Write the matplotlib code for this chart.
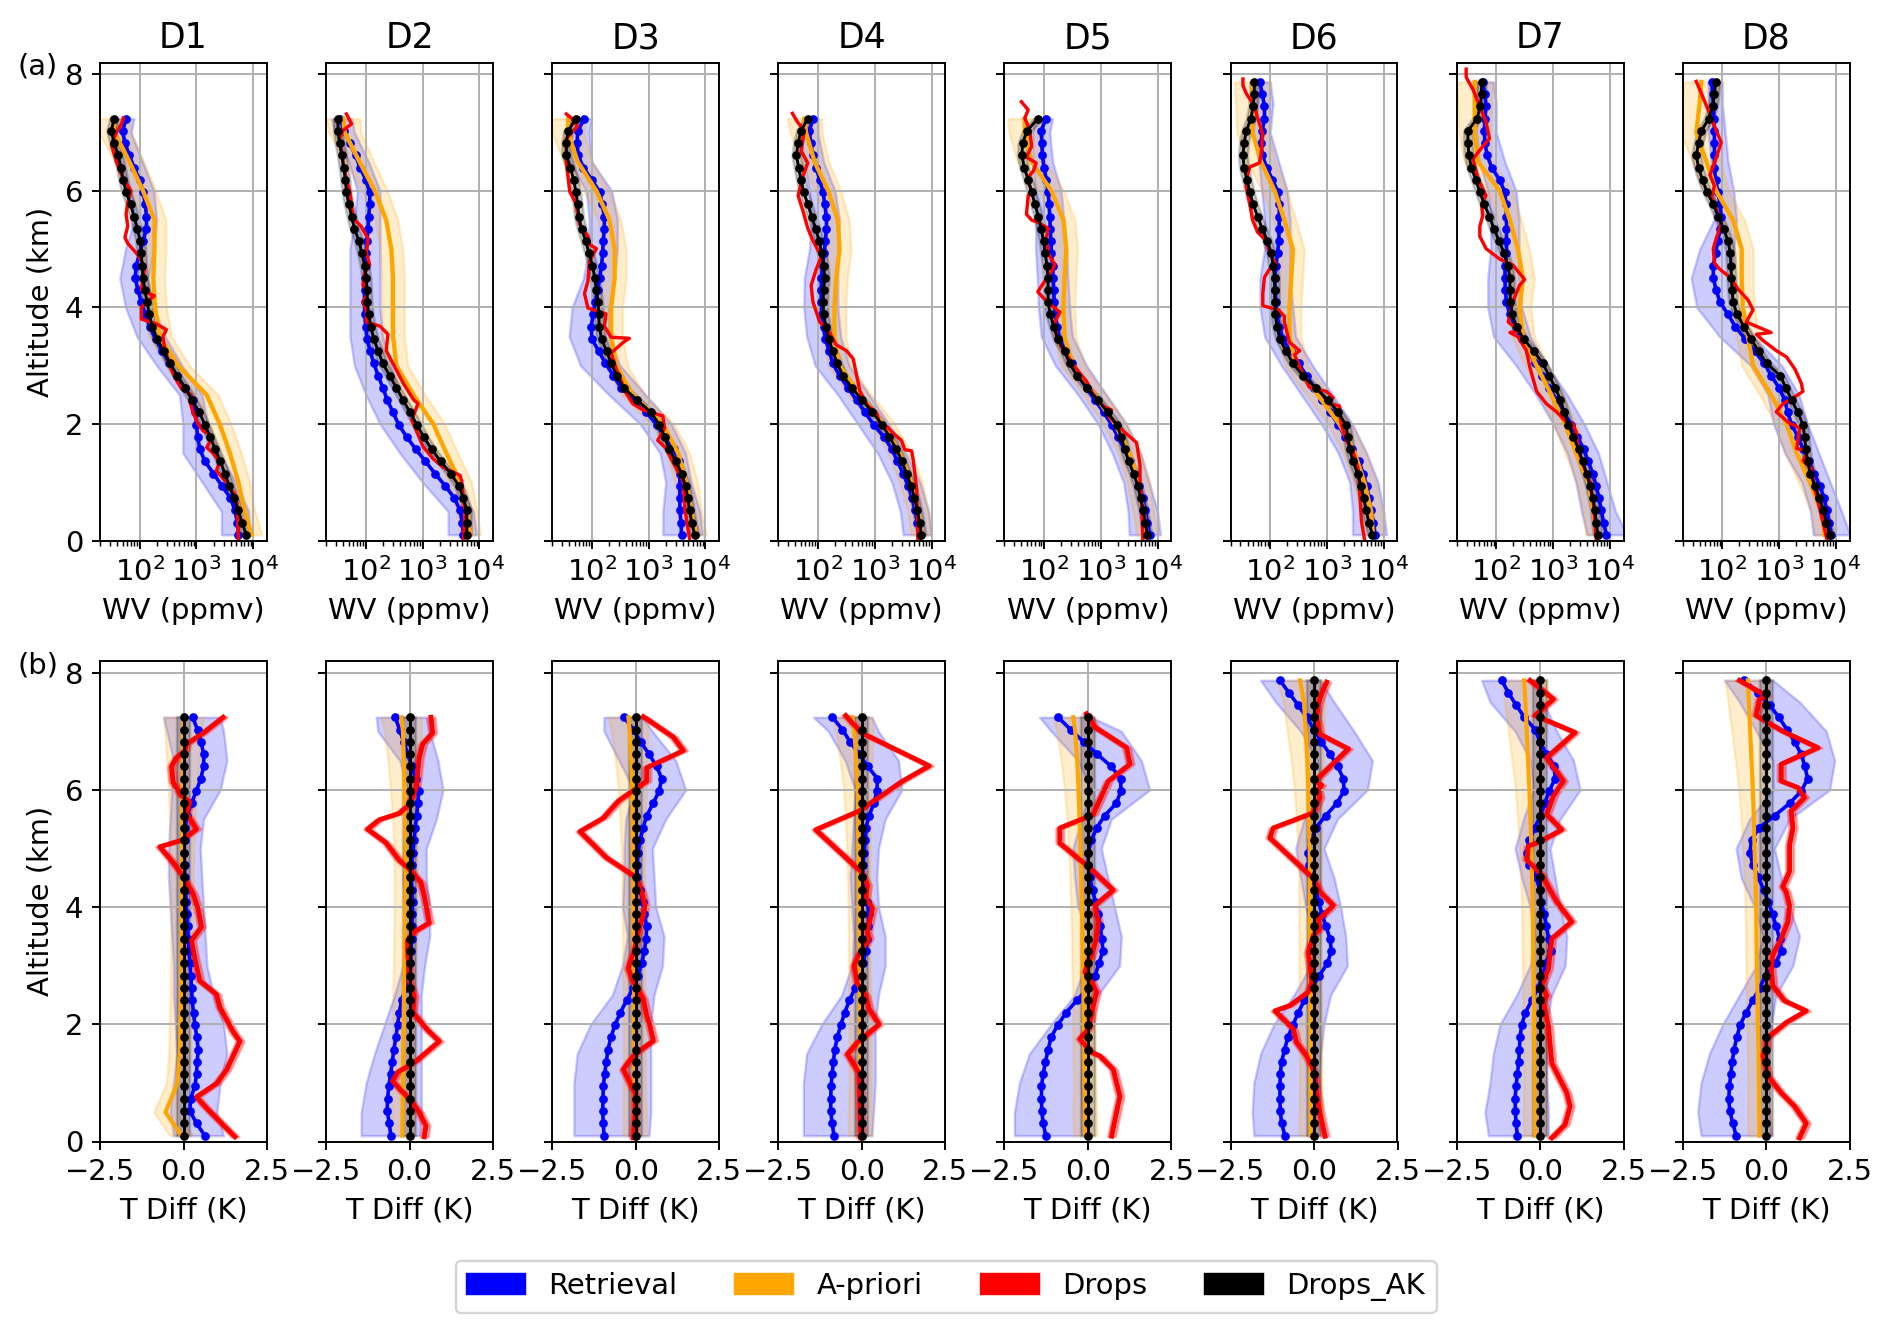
import numpy as np
import matplotlib
matplotlib.use("Agg")
import matplotlib.pyplot as plt
from matplotlib.patches import Patch

plt.rcParams['font.family'] = ['DejaVu Sans']
plt.rcParams['font.size'] = 12

PANELS = ['D1', 'D2', 'D3', 'D4', 'D5', 'D6', 'D7', 'D8']
LEGEND_LABELS = ['Retrieval', 'A-priori', 'Drops', 'Drops_AK']
Y_TICKS = [0, 2, 4, 6, 8]
T_TICKS = [-2.5, 0.0, 2.5]

# retrieval altitude levels (km)
Z_LEV_A = [0.10, 0.31, 0.52, 0.73, 0.94, 1.15, 1.36, 1.57, 1.78, 1.99,
           2.20, 2.41, 2.62, 2.83, 3.04, 3.25, 3.46, 3.67, 3.88, 4.09,
           4.30, 4.51, 4.72, 4.93, 5.14, 5.35, 5.56, 5.77, 5.98, 6.19,
           6.40, 6.61, 6.82, 7.03, 7.24]
Z_LEV_B = Z_LEV_A + [7.45, 7.66, 7.87]
# coarse altitudes for a-priori and uncertainty bands (km)
Z_CRS_A = [0.1, 0.5, 1.0, 1.5, 2.0, 2.5, 3.0, 3.5, 4.0, 4.5, 5.0, 5.5, 6.0, 6.5, 7.0, 7.24]
Z_CRS_B = [0.1, 0.5, 1.0, 1.5, 2.0, 2.5, 3.0, 3.5, 4.0, 4.5, 5.0, 5.5, 6.0, 6.5, 7.0, 7.5, 7.87]

# ---------------- (a) water vapour, log10(ppmv) ----------------
WV_RET_D1 = [3.74, 3.72, 3.68, 3.60, 3.45, 3.30, 3.15, 3.06, 3.02, 3.00,
             2.98, 2.94, 2.80, 2.65, 2.52, 2.40, 2.28, 2.18, 2.10, 2.03,
             1.97, 1.92, 1.94, 2.00, 2.06, 2.12, 2.12, 2.10, 2.06, 2.00,
             1.90, 1.82, 1.74, 1.70, 1.76]
WV_RET_D2 = [3.72, 3.70, 3.66, 3.56, 3.40, 3.22, 3.05, 2.88, 2.72, 2.58,
             2.48, 2.38, 2.30, 2.22, 2.14, 2.08, 2.02, 2.00, 1.98, 1.98,
             1.98, 1.98, 2.00, 2.01, 2.02, 2.04, 2.05, 2.07, 2.07, 2.00,
             1.90, 1.82, 1.72, 1.62, 1.54]
WV_RET_D3 = [3.58, 3.57, 3.55, 3.55, 3.55, 3.55, 3.54, 3.44, 3.28, 3.14,
             2.96, 2.76, 2.52, 2.38, 2.24, 2.12, 2.00, 1.99, 2.02, 2.06,
             2.10, 2.14, 2.17, 2.19, 2.20, 2.22, 2.22, 2.18, 2.14, 2.00,
             1.85, 1.76, 1.74, 1.75, 1.87]
WV_RET_D4 = [3.79, 3.75, 3.71, 3.66, 3.59, 3.50, 3.40, 3.30, 3.16, 2.98,
             2.83, 2.68, 2.53, 2.38, 2.26, 2.20, 2.13, 2.10, 2.07, 2.06,
             2.06, 2.06, 2.08, 2.11, 2.13, 2.15, 2.15, 2.12, 2.09, 2.03,
             1.97, 1.91, 1.87, 1.85, 1.91]
WV_RET_D5 = [3.86, 3.82, 3.78, 3.74, 3.68, 3.60, 3.52, 3.42, 3.30, 3.19,
             3.05, 2.90, 2.75, 2.60, 2.49, 2.38, 2.27, 2.23, 2.20, 2.18,
             2.17, 2.16, 2.15, 2.13, 2.12, 2.11, 2.10, 2.09, 2.07, 2.04,
             2.00, 1.97, 1.96, 1.95, 2.03]
WV_RET_D6 = [3.84, 3.82, 3.78, 3.74, 3.70, 3.64, 3.56, 3.44, 3.32, 3.20,
             3.06, 2.92, 2.78, 2.64, 2.50, 2.36, 2.22, 2.16, 2.12, 2.10,
             2.09, 2.08, 2.10, 2.13, 2.15, 2.16, 2.16, 2.16, 2.14, 2.04,
             1.94, 1.86, 1.84, 1.86, 1.90, 1.90, 1.86, 1.82]
WV_RET_D7 = [3.94, 3.89, 3.85, 3.81, 3.76, 3.70, 3.62, 3.54, 3.43, 3.32,
             3.19, 3.06, 2.93, 2.80, 2.68, 2.57, 2.45, 2.34, 2.24, 2.18,
             2.16, 2.15, 2.16, 2.18, 2.18, 2.18, 2.18, 2.17, 2.15, 2.06,
             1.92, 1.84, 1.80, 1.79, 1.80, 1.82, 1.80, 1.76]
WV_RET_D8 = [3.92, 3.88, 3.84, 3.79, 3.72, 3.62, 3.52, 3.42, 3.33, 3.22,
             3.15, 3.10, 3.00, 2.86, 2.74, 2.57, 2.40, 2.23, 2.10, 1.96,
             1.89, 1.84, 1.84, 1.88, 1.92, 1.96, 1.98, 1.96, 1.92, 1.88,
             1.86, 1.86, 1.86, 1.86, 1.85, 1.84, 1.83, 1.81]

WV_AK_D1 = [3.88, 3.80, 3.74, 3.66, 3.58, 3.50, 3.42, 3.33, 3.24, 3.15,
            3.05, 2.93, 2.80, 2.66, 2.54, 2.42, 2.31, 2.22, 2.17, 2.13,
            2.09, 2.06, 2.04, 2.03, 2.01, 1.96, 1.90, 1.84, 1.76, 1.71,
            1.67, 1.62, 1.55, 1.50, 1.55]
WV_AK_D2 = [3.78, 3.78, 3.78, 3.72, 3.64, 3.50, 3.32, 3.16, 3.02, 2.90,
            2.78, 2.66, 2.54, 2.42, 2.30, 2.22, 2.14, 2.09, 2.05, 2.03,
            2.02, 2.01, 1.98, 1.93, 1.88, 1.80, 1.75, 1.70, 1.66, 1.64,
            1.61, 1.58, 1.54, 1.51, 1.51]
WV_AK_D3 = [3.81, 3.76, 3.72, 3.69, 3.65, 3.58, 3.48, 3.36, 3.28, 3.19,
            3.04, 2.80, 2.56, 2.44, 2.34, 2.26, 2.17, 2.13, 2.12, 2.11,
            2.08, 2.05, 2.01, 1.95, 1.89, 1.82, 1.77, 1.75, 1.72, 1.68,
            1.62, 1.55, 1.55, 1.58, 1.72]
WV_AK_D4 = [3.82, 3.79, 3.75, 3.70, 3.64, 3.56, 3.48, 3.38, 3.26, 3.13,
            2.96, 2.78, 2.60, 2.44, 2.34, 2.26, 2.19, 2.14, 2.10, 2.09,
            2.10, 2.12, 2.10, 2.07, 2.02, 1.96, 1.89, 1.82, 1.75, 1.70,
            1.66, 1.62, 1.65, 1.70, 1.82]
WV_AK_D5 = [3.82, 3.78, 3.75, 3.70, 3.65, 3.58, 3.49, 3.42, 3.36, 3.28,
            3.12, 2.95, 2.76, 2.58, 2.45, 2.36, 2.24, 2.17, 2.11, 2.07,
            2.07, 2.07, 2.05, 2.02, 1.99, 1.95, 1.90, 1.84, 1.78, 1.72,
            1.65, 1.61, 1.62, 1.70, 1.89]
WV_AK_D6 = [3.80, 3.74, 3.69, 3.65, 3.60, 3.54, 3.46, 3.40, 3.37, 3.33,
            3.20, 3.02, 2.80, 2.58, 2.40, 2.28, 2.17, 2.12, 2.09, 2.08,
            2.08, 2.08, 2.05, 2.02, 1.95, 1.86, 1.78, 1.70, 1.64, 1.59,
            1.54, 1.52, 1.54, 1.58, 1.66, 1.70, 1.72, 1.72]
WV_AK_D7 = [3.79, 3.76, 3.74, 3.70, 3.65, 3.59, 3.52, 3.45, 3.36, 3.27,
            3.20, 3.13, 3.04, 2.93, 2.82, 2.66, 2.48, 2.36, 2.28, 2.25,
            2.24, 2.24, 2.20, 2.14, 2.05, 1.96, 1.88, 1.79, 1.71, 1.64,
            1.56, 1.52, 1.50, 1.50, 1.66, 1.72, 1.74, 1.74]
WV_AK_D8 = [3.89, 3.83, 3.78, 3.71, 3.63, 3.55, 3.50, 3.47, 3.45, 3.42,
            3.33, 3.22, 3.12, 3.02, 2.78, 2.64, 2.50, 2.38, 2.26, 2.19,
            2.17, 2.16, 2.15, 2.14, 2.10, 2.02, 1.93, 1.84, 1.73, 1.65,
            1.58, 1.54, 1.58, 1.63, 1.76, 1.83, 1.86, 1.88]

WV_APR_D1 = [3.97, 3.85, 3.74, 3.59, 3.41, 3.18, 2.68, 2.36, 2.27, 2.24, 2.26, 2.26, 2.06, 1.82, 1.56, 1.52]
WV_APR_D2 = [3.84, 3.78, 3.66, 3.42, 3.19, 2.84, 2.54, 2.48, 2.48, 2.48, 2.45, 2.36, 2.16, 1.89, 1.63, 1.60]
WV_APR_D3 = [3.84, 3.75, 3.66, 3.52, 3.25, 2.72, 2.43, 2.34, 2.34, 2.40, 2.40, 2.31, 2.08, 1.75, 1.58, 1.58]
WV_APR_D4 = [3.82, 3.76, 3.64, 3.44, 3.15, 2.74, 2.38, 2.29, 2.29, 2.32, 2.38, 2.35, 2.18, 1.94, 1.79, 1.76]
WV_APR_D5 = [3.81, 3.75, 3.66, 3.51, 3.25, 2.89, 2.51, 2.36, 2.34, 2.36, 2.39, 2.34, 2.13, 1.78, 1.66, 1.66]
WV_APR_D6 = [3.81, 3.78, 3.66, 3.49, 3.22, 2.84, 2.46, 2.34, 2.34, 2.37, 2.40, 2.25, 2.08, 1.84, 1.69, 1.69, 1.69]
WV_APR_D7 = [3.76, 3.71, 3.62, 3.41, 3.21, 2.97, 2.71, 2.47, 2.41, 2.47, 2.38, 2.24, 2.06, 1.68, 1.62, 1.62, 1.62]
WV_APR_D8 = [3.80, 3.75, 3.54, 3.31, 3.13, 2.86, 2.54, 2.45, 2.36, 2.34, 2.34, 2.19, 1.89, 1.72, 1.54, 1.60, 1.63]
WV_APR_ERR_A = [0.18, 0.18, 0.20, 0.20, 0.20, 0.20, 0.20, 0.20, 0.20, 0.20, 0.20, 0.20, 0.22, 0.25, 0.28, 0.30]
WV_APR_ERR_B = [0.18, 0.18, 0.20, 0.20, 0.20, 0.20, 0.20, 0.20, 0.20, 0.20, 0.20, 0.20, 0.22, 0.25, 0.28, 0.30, 0.32]
WV_AK_ERR = 0.08

WV_RET_LO_D1 = [3.44, 3.44, 3.10, 2.76, 2.76, 2.70, 2.30, 1.95, 1.75, 1.65, 1.75, 1.90, 1.85, 1.65, 1.55, 1.60]
WV_RET_HI_D1 = [3.95, 3.92, 3.70, 3.40, 3.20, 3.10, 2.75, 2.45, 2.25, 2.15, 2.25, 2.30, 2.25, 2.05, 1.85, 1.90]
WV_RET_LO_D2 = [3.45, 3.45, 3.00, 2.60, 2.25, 2.00, 1.80, 1.72, 1.72, 1.72, 1.72, 1.80, 1.85, 1.70, 1.45, 1.40]
WV_RET_HI_D2 = [3.95, 3.90, 3.60, 3.20, 2.85, 2.60, 2.45, 2.30, 2.25, 2.25, 2.25, 2.25, 2.25, 2.05, 1.80, 1.75]
WV_RET_LO_D3 = [3.25, 3.25, 3.30, 3.20, 2.85, 2.30, 1.80, 1.60, 1.65, 1.85, 1.95, 1.95, 1.90, 1.60, 1.55, 1.65]
WV_RET_HI_D3 = [3.95, 3.90, 3.75, 3.65, 3.40, 2.95, 2.50, 2.30, 2.30, 2.40, 2.45, 2.45, 2.35, 2.00, 1.95, 2.00]
WV_RET_LO_D4 = [3.50, 3.45, 3.30, 3.05, 2.70, 2.35, 1.95, 1.80, 1.75, 1.76, 1.85, 1.88, 1.85, 1.75, 1.70, 1.75]
WV_RET_HI_D4 = [4.00, 3.95, 3.80, 3.55, 3.25, 2.90, 2.55, 2.40, 2.35, 2.35, 2.35, 2.38, 2.30, 2.10, 2.00, 2.00]
WV_RET_LO_D5 = [3.50, 3.48, 3.40, 3.20, 2.95, 2.60, 2.20, 1.95, 1.90, 1.88, 1.85, 1.85, 1.85, 1.80, 1.80, 1.85]
WV_RET_HI_D5 = [4.05, 4.00, 3.85, 3.70, 3.45, 3.10, 2.75, 2.50, 2.45, 2.42, 2.40, 2.35, 2.30, 2.15, 2.10, 2.15]
WV_RET_LO_D6 = [3.45, 3.45, 3.40, 3.20, 2.90, 2.55, 2.20, 1.90, 1.82, 1.82, 1.90, 1.90, 1.85, 1.80, 1.70, 1.75, 1.75]
WV_RET_HI_D6 = [4.05, 4.00, 3.90, 3.70, 3.45, 3.10, 2.75, 2.45, 2.40, 2.35, 2.35, 2.35, 2.30, 2.15, 2.00, 2.05, 2.00]
WV_RET_LO_D7 = [3.60, 3.50, 3.40, 3.25, 3.00, 2.70, 2.35, 1.95, 1.85, 1.85, 1.90, 1.90, 1.85, 1.70, 1.65, 1.65, 1.65]
WV_RET_HI_D7 = [4.30, 4.10, 3.95, 3.80, 3.55, 3.25, 2.90, 2.60, 2.45, 2.40, 2.40, 2.40, 2.35, 2.15, 2.00, 2.00, 1.95]
WV_RET_LO_D8 = [3.60, 3.55, 3.40, 3.10, 2.90, 2.80, 2.50, 1.95, 1.55, 1.45, 1.60, 1.85, 1.85, 1.80, 1.75, 1.75, 1.75]
WV_RET_HI_D8 = [4.25, 4.10, 3.90, 3.70, 3.50, 3.35, 3.05, 2.55, 2.20, 2.15, 2.20, 2.25, 2.20, 2.10, 2.05, 2.00, 2.00]

# dropsonde profiles: (altitude km, log10 ppmv)
WV_DROPS_D1 = [(0.03, 3.74), (0.67, 3.71), (0.80, 3.67), (1.00, 3.53), (1.20, 3.35), (1.35, 3.41),
               (1.50, 3.29), (1.60, 3.18), (1.70, 3.24), (1.80, 3.27), (1.88, 3.12), (2.00, 3.03),
               (2.20, 2.94), (2.40, 2.88), (2.50, 2.91), (2.60, 2.74), (2.80, 2.62), (3.00, 2.53),
               (3.30, 2.44), (3.50, 2.41), (3.62, 2.47), (3.72, 2.29), (3.80, 2.03), (4.00, 2.03),
               (4.10, 2.12), (4.20, 2.26), (4.30, 2.03), (4.50, 2.06), (4.70, 2.09), (4.90, 1.97),
               (5.10, 1.79), (5.20, 1.74), (5.40, 1.79), (5.60, 1.76), (5.80, 1.79), (6.00, 1.85),
               (6.20, 1.71), (6.50, 1.59), (6.80, 1.50), (7.00, 1.59), (7.15, 1.68), (7.25, 1.71)]
WV_DROPS_D2 = [(0.03, 3.72), (0.46, 3.75), (1.02, 3.69), (1.12, 3.66), (1.26, 3.36), (1.40, 3.19),
               (1.61, 3.01), (2.07, 2.81), (2.35, 2.92), (2.42, 2.84), (2.70, 2.66), (2.98, 2.51),
               (3.26, 2.36), (3.54, 2.39), (3.68, 2.25), (3.75, 2.01), (3.96, 2.01), (4.10, 1.95),
               (4.24, 2.04), (4.38, 1.95), (4.59, 1.98), (4.73, 2.07), (4.94, 2.01), (5.18, 2.04),
               (5.39, 1.92), (5.53, 1.78), (5.74, 1.75), (5.99, 1.72), (6.20, 1.66), (6.48, 1.60),
               (6.90, 1.54), (7.04, 1.60), (7.15, 1.75), (7.32, 1.66)]
WV_DROPS_D3 = [(0.03, 3.72), (0.53, 3.64), (1.02, 3.61), (1.40, 3.40), (1.58, 3.31), (1.72, 3.16),
               (1.93, 3.28), (2.14, 3.25), (2.24, 2.90), (2.35, 2.72), (2.52, 2.61), (2.94, 2.43),
               (3.22, 2.34), (3.40, 2.55), (3.47, 2.66), (3.49, 2.34), (3.68, 2.22), (3.89, 2.25),
               (3.99, 1.93), (4.24, 1.87), (4.45, 1.93), (4.80, 1.96), (5.01, 2.08), (5.08, 1.96),
               (5.22, 1.93), (5.43, 1.78), (5.78, 1.72), (5.99, 1.61), (6.48, 1.55), (6.90, 1.55),
               (7.11, 1.75), (7.25, 1.64), (7.32, 1.55)]
WV_DROPS_D4 = [(0.03, 3.76), (0.88, 3.74), (1.37, 3.68), (1.54, 3.65), (1.56, 3.53), (1.72, 3.47),
               (1.82, 3.35), (1.96, 3.21), (2.00, 3.09), (2.20, 3.03), (2.31, 2.88), (2.56, 2.74),
               (2.84, 2.68), (3.12, 2.62), (3.26, 2.50), (3.36, 2.32), (3.61, 2.18), (3.75, 2.03),
               (4.10, 1.91), (4.38, 1.88), (4.66, 1.97), (4.87, 2.06), (5.15, 1.91), (5.36, 1.82),
               (5.64, 1.74), (5.92, 1.65), (6.27, 1.74), (6.48, 1.82), (6.69, 1.70), (7.04, 1.76),
               (7.18, 1.64), (7.33, 1.55)]
WV_DROPS_D5 = [(0.03, 3.74), (0.60, 3.72), (1.02, 3.69), (1.30, 3.69), (1.68, 3.63), (1.86, 3.42),
               (2.00, 3.28), (2.14, 3.13), (2.24, 3.19), (2.31, 3.04), (2.52, 2.86), (2.73, 2.75),
               (2.98, 2.54), (3.12, 2.45), (3.26, 2.34), (3.50, 2.22), (3.75, 2.19), (3.92, 2.28),
               (4.06, 2.10), (4.17, 1.98), (4.27, 1.89), (4.45, 2.01), (4.62, 2.13), (4.73, 2.19),
               (4.94, 2.07), (5.18, 2.04), (5.36, 2.07), (5.46, 1.89), (5.50, 1.78), (5.60, 1.69),
               (5.92, 1.72), (6.02, 1.78), (6.20, 1.69), (6.34, 1.81), (6.48, 1.86), (6.58, 1.69),
               (6.76, 1.78), (7.04, 1.75), (7.25, 1.66), (7.39, 1.72), (7.53, 1.60)]
WV_DROPS_D6 = [(0.03, 3.66), (0.32, 3.61), (0.77, 3.58), (1.23, 3.55), (1.54, 3.46), (1.72, 3.34),
               (2.00, 3.25), (2.31, 3.22), (2.35, 3.02), (2.45, 3.11), (2.56, 2.99), (2.63, 2.69),
               (2.98, 2.52), (3.19, 2.43), (3.26, 2.52), (3.40, 2.34), (3.75, 2.25), (3.85, 2.25),
               (3.96, 2.14), (4.03, 1.87), (4.24, 1.87), (4.52, 1.90), (4.66, 1.99), (4.73, 2.11),
               (4.94, 1.99), (5.15, 1.93), (5.29, 1.78), (5.50, 1.69), (5.78, 1.64), (6.06, 1.58),
               (6.20, 1.58), (6.41, 1.64), (6.48, 1.81), (6.62, 1.84), (6.97, 1.87), (7.25, 1.78),
               (7.46, 1.72), (7.67, 1.58), (7.81, 1.52), (7.92, 1.52)]
WV_DROPS_D7 = [(0.03, 3.76), (0.67, 3.71), (1.02, 3.65), (1.30, 3.53), (1.58, 3.44), (1.86, 3.41),
               (2.00, 3.35), (2.03, 3.24), (2.21, 3.06), (2.35, 2.88), (2.56, 2.71), (2.98, 2.59),
               (3.26, 2.53), (3.50, 2.38), (3.57, 2.24), (3.60, 2.41), (3.75, 2.21), (3.96, 2.26),
               (4.17, 2.32), (4.38, 2.41), (4.48, 2.50), (4.73, 2.29), (4.83, 2.06), (5.01, 1.82),
               (5.22, 1.71), (5.39, 1.71), (5.57, 1.76), (5.78, 1.74), (5.92, 1.82), (6.20, 1.68),
               (6.55, 1.59), (6.76, 1.76), (6.90, 1.88), (7.18, 1.82), (7.74, 1.59), (7.95, 1.47),
               (8.09, 1.47)]
WV_DROPS_D8 = [(0.03, 3.84), (0.53, 3.72), (0.88, 3.63), (1.23, 3.57), (1.37, 3.42), (1.54, 3.51),
               (1.58, 3.31), (1.93, 3.36), (2.03, 3.16), (2.21, 2.95), (2.35, 3.07), (2.45, 3.25),
               (2.56, 3.42), (2.70, 3.39), (2.94, 3.28), (3.15, 3.13), (3.26, 2.95), (3.43, 2.72),
               (3.54, 2.60), (3.57, 2.86), (3.75, 2.42), (3.96, 2.54), (4.13, 2.45), (4.31, 2.28),
               (4.52, 2.13), (4.66, 1.95), (4.76, 1.86), (5.01, 1.84), (5.18, 1.89), (5.43, 1.98),
               (5.71, 1.89), (5.88, 1.81), (6.09, 1.86), (6.27, 1.78), (6.48, 1.86), (6.83, 1.98),
               (7.04, 1.89), (7.32, 1.78), (7.60, 1.66), (7.88, 1.54)]

# ---------------- (b) temperature difference, K ----------------
T_RET_D1 = [0.64, 0.39, 0.19, 0.21, 0.34, 0.39, 0.41, 0.44, 0.40, 0.34,
            0.30, 0.26, 0.24, 0.22, 0.19, 0.17, 0.14, 0.12, 0.10, 0.08,
            0.06, 0.04, 0.03, 0.02, 0.03, 0.05, 0.10, 0.24, 0.38, 0.52,
            0.60, 0.61, 0.52, 0.42, 0.27]
T_RET_D2 = [-0.56, -0.61, -0.67, -0.66, -0.62, -0.57, -0.52, -0.47, -0.41, -0.36,
            -0.31, -0.24, -0.12, -0.03, 0.02, 0.04, 0.06, 0.07, 0.08, 0.09,
            0.07, 0.05, 0.06, 0.09, 0.13, 0.17, 0.21, 0.25, 0.27, 0.18,
            0.06, -0.05, -0.18, -0.30, -0.43]
T_RET_D3 = [-0.95, -0.97, -0.99, -0.98, -0.97, -0.93, -0.88, -0.83, -0.74, -0.62,
            -0.46, -0.27, -0.08, 0.06, 0.18, 0.26, 0.31, 0.33, 0.26, 0.21,
            0.14, 0.04, 0.05, 0.07, 0.13, 0.22, 0.33, 0.52, 0.70, 0.78,
            0.63, 0.40, 0.15, -0.07, -0.35]
T_RET_D4 = [-0.83, -0.89, -0.93, -0.93, -0.92, -0.89, -0.85, -0.81, -0.73, -0.63,
            -0.51, -0.37, -0.20, -0.06, 0.04, 0.12, 0.17, 0.20, 0.21, 0.16,
            0.08, 0.02, 0.04, 0.07, 0.10, 0.12, 0.22, 0.36, 0.45, 0.47,
            0.18, -0.08, -0.35, -0.58, -0.88]
T_RET_D5 = [-1.26, -1.34, -1.38, -1.39, -1.39, -1.34, -1.27, -1.19, -1.10, -0.90,
            -0.65, -0.33, 0.00, 0.22, 0.33, 0.45, 0.42, 0.37, 0.30, 0.22,
            0.14, 0.05, 0.01, 0.01, 0.10, 0.26, 0.50, 0.85, 0.99, 0.98,
            0.70, 0.28, -0.13, -0.52, -0.89]
T_RET_D6 = [-0.87, -0.97, -1.01, -1.02, -1.02, -1.01, -0.97, -0.88, -0.78, -0.63,
            -0.47, -0.29, -0.07, 0.16, 0.40, 0.52, 0.48, 0.36, 0.24, 0.14,
            0.06, -0.07, -0.15, -0.18, -0.10, 0.05, 0.35, 0.68, 0.90, 0.88,
            0.71, 0.48, 0.22, 0.00, -0.22, -0.48, -0.75, -1.02]
T_RET_D7 = [-0.68, -0.72, -0.74, -0.75, -0.72, -0.68, -0.64, -0.62, -0.60, -0.55,
            -0.44, -0.25, -0.07, 0.08, 0.17, 0.32, 0.26, 0.19, 0.12, 0.04,
            -0.01, -0.12, -0.32, -0.40, -0.32, -0.16, 0.01, 0.14, 0.27, 0.45,
            0.43, 0.19, 0.00, -0.15, -0.47, -0.72, -0.95, -1.15]
T_RET_D8 = [-0.90, -1.00, -1.09, -1.12, -1.10, -1.06, -1.02, -0.96, -0.88, -0.78,
            -0.60, -0.40, -0.20, -0.02, 0.28, 0.46, 0.40, 0.30, 0.19, 0.06,
            -0.08, -0.24, -0.40, -0.49, -0.44, -0.22, 0.25, 0.70, 1.05, 1.24,
            1.16, 1.05, 0.85, 0.62, 0.38, 0.10, -0.25, -0.65]

T_AK_A = [0.0, 0.0, 0.0, 0.0, 0.0, 0.0, 0.0, 0.0, 0.0, 0.0,
          0.0, 0.0, 0.0, 0.0, 0.0, 0.0, 0.0, 0.0, 0.0, 0.0,
          0.0, 0.0, 0.0, 0.0, 0.0, 0.0, 0.0, 0.0, 0.0, 0.0,
          0.0, 0.0, 0.0, 0.0, 0.0]
T_AK_B = [0.0, 0.0, 0.0, 0.0, 0.0, 0.0, 0.0, 0.0, 0.0, 0.0,
          0.0, 0.0, 0.0, 0.0, 0.0, 0.0, 0.0, 0.0, 0.0, 0.0,
          0.0, 0.0, 0.0, 0.0, 0.0, 0.0, 0.0, 0.0, 0.0, 0.0,
          0.0, 0.0, 0.0, 0.0, 0.0, 0.0, 0.0, 0.0]
T_AK_ERR = 0.2
T_DROP_ERR = 0.12

T_APR_D1 = [-0.06, -0.54, -0.18, -0.11, -0.09, -0.07, -0.06, -0.06, -0.05, -0.05, -0.04, -0.04, -0.03, -0.02, -0.01, 0.00]
T_APR_D2 = [-0.22, -0.21, -0.20, -0.19, -0.18, -0.17, -0.15, -0.14, -0.13, -0.12, -0.12, -0.13, -0.15, -0.17, -0.20, -0.25]
T_APR_D3 = [-0.03, -0.03, -0.04, -0.04, -0.05, -0.05, -0.06, -0.06, -0.07, -0.07, -0.08, -0.09, -0.10, -0.13, -0.18, -0.22]
T_APR_D4 = [-0.05, -0.05, -0.05, -0.05, -0.05, -0.06, -0.07, -0.07, -0.08, -0.09, -0.10, -0.11, -0.12, -0.17, -0.22, -0.28]
T_APR_D5 = [-0.08, -0.09, -0.10, -0.11, -0.12, -0.13, -0.15, -0.16, -0.18, -0.20, -0.22, -0.25, -0.28, -0.32, -0.38, -0.44]
T_APR_D6 = [-0.10, -0.10, -0.10, -0.10, -0.10, -0.11, -0.12, -0.12, -0.12, -0.12, -0.13, -0.15, -0.17, -0.20, -0.25, -0.30, -0.42]
T_APR_D7 = [-0.15, -0.15, -0.16, -0.17, -0.18, -0.19, -0.20, -0.21, -0.22, -0.24, -0.26, -0.29, -0.32, -0.36, -0.40, -0.44, -0.48]
T_APR_D8 = [-0.20, -0.21, -0.22, -0.23, -0.25, -0.26, -0.28, -0.29, -0.30, -0.32, -0.35, -0.37, -0.40, -0.44, -0.48, -0.52, -0.55]
T_APR_ERR_A = [0.35, 0.35, 0.33, 0.33, 0.33, 0.33, 0.33, 0.33, 0.33, 0.34, 0.35, 0.38, 0.42, 0.48, 0.55, 0.60]
T_APR_ERR_B = [0.35, 0.35, 0.33, 0.33, 0.33, 0.33, 0.33, 0.33, 0.33, 0.34, 0.35, 0.38, 0.42, 0.48, 0.55, 0.62, 0.68]

T_RET_LO_D1 = [-0.30, -0.40, -0.30, -0.20, -0.25, -0.30, -0.30, -0.35, -0.40, -0.45, -0.45, -0.40, -0.35, -0.30, -0.50, -0.60]
T_RET_HI_D1 = [1.20, 1.00, 1.10, 1.30, 1.20, 0.90, 0.70, 0.65, 0.60, 0.55, 0.50, 0.60, 1.10, 1.30, 1.20, 1.10]
T_RET_LO_D2 = [-1.45, -1.45, -1.30, -1.05, -0.75, -0.45, -0.20, -0.15, -0.15, -0.20, -0.15, -0.10, -0.05, -0.30, -0.95, -1.00]
T_RET_HI_D2 = [0.30, 0.35, 0.35, 0.35, 0.35, 0.35, 0.45, 0.60, 0.60, 0.50, 0.50, 0.80, 1.00, 0.85, 0.60, 0.50]
T_RET_LO_D3 = [-1.85, -1.85, -1.85, -1.75, -1.35, -0.70, -0.40, -0.25, -0.40, -0.35, -0.35, -0.30, -0.05, -0.50, -0.95, -0.95]
T_RET_HI_D3 = [0.40, 0.45, 0.45, 0.45, 0.45, 0.55, 0.80, 0.85, 0.60, 0.55, 0.50, 0.90, 1.50, 1.20, 0.50, 0.20]
T_RET_LO_D4 = [-1.75, -1.75, -1.75, -1.65, -1.20, -0.60, -0.30, -0.25, -0.30, -0.35, -0.30, -0.25, -0.20, -0.50, -1.00, -1.45]
T_RET_HI_D4 = [0.30, 0.35, 0.40, 0.40, 0.40, 0.50, 0.70, 0.70, 0.50, 0.45, 0.50, 0.70, 1.20, 1.10, 0.50, 0.30]
T_RET_LO_D5 = [-2.20, -2.20, -2.05, -1.75, -1.10, -0.40, -0.10, 0.05, -0.30, -0.40, -0.45, -0.20, 0.10, -0.30, -1.10, -1.45]
T_RET_HI_D5 = [-0.10, -0.15, -0.20, -0.15, -0.05, 0.30, 0.95, 1.00, 0.80, 0.60, 0.40, 0.70, 1.85, 1.60, 1.00, 0.10]
T_RET_LO_D6 = [-1.80, -1.85, -1.80, -1.60, -1.20, -0.60, -0.10, 0.00, -0.25, -0.40, -0.55, -0.30, 0.20, 0.10, -0.40, -1.15, -1.60]
T_RET_HI_D6 = [0.15, 0.15, 0.15, 0.20, 0.30, 0.50, 1.00, 0.95, 0.80, 0.60, 0.30, 0.70, 1.60, 1.75, 1.20, 0.60, 0.20]
T_RET_LO_D7 = [-1.55, -1.65, -1.50, -1.40, -1.20, -0.70, -0.30, -0.15, -0.30, -0.55, -0.75, -0.50, -0.20, -0.30, -0.75, -1.50, -1.75]
T_RET_HI_D7 = [0.25, 0.25, 0.20, 0.20, 0.20, 0.35, 0.75, 0.80, 0.60, 0.45, 0.30, 0.60, 1.20, 1.00, 0.50, 0.10, -0.15]
T_RET_LO_D8 = [-1.95, -2.05, -1.95, -1.70, -1.30, -0.80, -0.30, -0.10, -0.35, -0.75, -0.90, -0.50, 0.20, 0.20, -0.30, -0.80, -1.25]
T_RET_HI_D8 = [0.15, 0.10, 0.10, 0.10, 0.15, 0.30, 0.80, 1.00, 0.70, 0.45, 0.25, 0.70, 1.90, 2.05, 1.80, 1.00, 0.20]

T_DROPS_D1 = [(0.08, 1.54), (0.34, 1.09), (0.57, 0.69), (0.76, 0.39), (0.99, 0.99), (1.22, 1.29),
              (1.71, 1.69), (1.87, 1.49), (2.29, 1.09), (2.51, 0.99), (2.74, 0.49), (3.12, 0.34),
              (3.43, 0.24), (3.66, 0.54), (3.96, 0.44), (4.23, 0.29), (4.42, 0.09), (4.53, -0.01),
              (4.76, -0.31), (5.03, -0.71), (5.14, -0.06), (5.33, 0.39), (5.60, 0.09), (5.79, 0.19),
              (5.90, -0.06), (6.13, -0.31), (6.40, -0.36), (6.55, -0.21), (6.67, 0.04), (6.78, 0.09),
              (6.97, 0.59), (7.24, 1.19)]
T_DROPS_D2 = [(0.08, 0.44), (0.27, 0.49), (0.50, 0.29), (0.69, 0.04), (1.03, -0.51), (1.18, -0.36),
              (1.37, 0.19), (1.71, 0.89), (1.90, 0.54), (2.21, 0.09), (2.48, 0.14), (2.74, -0.01),
              (3.28, -0.06), (3.43, -0.06), (3.58, 0.14), (3.73, 0.59), (4.19, 0.44), (4.42, 0.34),
              (4.65, -0.01), (4.80, -0.31), (5.10, -0.71), (5.33, -1.26), (5.49, -0.91), (5.60, -0.31),
              (5.75, -0.01), (6.02, 0.19), (6.55, 0.29), (6.78, 0.39), (6.97, 0.69), (7.24, 0.64)]
T_DROPS_D3 = [(0.06, -0.07), (0.49, -0.02), (0.83, -0.02), (1.23, -0.37), (1.35, -0.22), (1.49, -0.02),
              (1.72, 0.53), (1.97, 0.43), (2.15, 0.33), (2.43, 0.23), (2.63, 0.03), (2.72, -0.07),
              (2.95, -0.22), (3.06, -0.17), (3.20, -0.07), (3.58, 0.08), (3.86, 0.23), (4.03, 0.28),
              (4.26, 0.18), (4.52, -0.02), (4.84, -0.87), (5.29, -1.67), (5.52, -0.97), (5.81, -0.52),
              (6.01, -0.02), (6.15, 0.33), (6.38, 0.33), (6.67, 1.43), (6.90, 1.13), (7.25, 0.23)]
T_DROPS_D4 = [(0.06, -0.03), (1.17, -0.08), (1.49, -0.43), (1.69, -0.13), (2.00, 0.52), (2.26, 0.22),
              (2.49, 0.12), (2.69, -0.13), (3.00, -0.23), (3.20, -0.08), (3.46, 0.22), (3.58, 0.17),
              (3.98, 0.32), (4.15, 0.12), (4.38, 0.17), (4.61, -0.03), (5.32, -1.38), (5.64, -0.08),
              (6.15, 1.22), (6.41, 2.02), (6.98, -0.03), (7.27, -0.48)]
T_DROPS_D5 = [(0.09, 0.71), (0.37, 0.81), (0.77, 0.96), (1.00, 0.86), (1.23, 0.76), (1.46, 0.36),
              (1.52, 0.11), (1.75, -0.24), (1.92, 0.01), (2.03, 0.06), (2.32, 0.16), (2.55, 0.26),
              (2.72, 0.11), (2.89, -0.09), (3.06, 0.01), (3.18, 0.11), (3.46, 0.26), (3.75, 0.31),
              (4.03, 0.21), (4.29, 0.76), (4.69, 0.01), (5.09, -0.84), (5.35, -0.84), (5.58, 0.16),
              (6.15, 0.61), (6.44, 1.26), (6.72, 1.16), (7.07, 0.21), (7.30, -0.04)]
T_DROPS_D6 = [(0.09, 0.33), (0.49, 0.18), (0.83, 0.08), (1.12, 0.03), (1.29, -0.07), (1.46, -0.22),
              (1.69, -0.52), (1.92, -0.62), (2.23, -1.17), (2.32, -0.72), (2.55, -0.17), (2.72, -0.07),
              (3.03, -0.12), (3.23, -0.17), (3.52, -0.02), (3.63, 0.18), (3.78, 0.13), (4.03, 0.58),
              (4.26, 0.18), (4.49, -0.02), (5.18, -1.32), (5.35, -1.22), (5.61, -0.02), (5.87, 0.18),
              (6.00, 0.13), (6.08, 0.23), (6.15, 0.03), (6.70, 1.03), (6.95, 0.18), (7.24, 0.08),
              (7.47, 0.13), (7.64, 0.23), (7.84, 0.38)]
T_DROPS_D7 = [(0.06, 0.35), (0.29, 0.75), (0.60, 0.90), (0.83, 0.80), (1.17, 0.50), (1.34, 0.35),
              (1.97, 0.25), (2.37, 0.10), (2.49, 0.20), (2.66, 0.05), (2.95, 0.25), (3.46, 0.35),
              (3.75, 0.95), (4.09, 0.50), (4.55, 0.05), (4.81, -0.40), (5.04, -0.35), (5.12, 0.00),
              (5.32, 0.65), (5.58, 0.20), (5.90, 0.40), (6.15, 0.70), (6.55, 0.20), (6.98, 1.05),
              (7.27, -0.15), (7.55, 0.40), (7.87, -0.30)]
T_DROPS_D8 = [(0.06, 1.00), (0.31, 1.20), (0.60, 0.85), (0.83, 0.45), (1.12, 0.05), (1.26, 0.00),
              (1.46, -0.10), (1.60, 0.00), (1.75, 0.00), (2.03, 0.60), (2.23, 1.20), (2.40, 0.55),
              (2.66, 0.20), (2.95, 0.15), (3.18, 0.20), (3.46, 0.45), (3.75, 0.65), (4.03, 0.70),
              (4.26, 0.60), (4.35, 0.50), (4.61, 0.70), (5.06, 0.70), (5.35, 0.80), (5.64, 0.75),
              (5.87, 1.15), (6.04, 0.95), (6.15, 0.45), (6.44, 0.45), (6.72, 1.55), (7.00, 0.50),
              (7.27, -0.30), (7.55, -0.20), (7.60, 0.00), (7.87, -0.80)]

# ---------------- tables built from the arrays above ----------------
G = globals()
WV_RET = {k: G['WV_RET_' + k] for k in PANELS}
WV_AK = {k: G['WV_AK_' + k] for k in PANELS}
WV_APR = {k: G['WV_APR_' + k] for k in PANELS}
WV_LO = {k: G['WV_RET_LO_' + k] for k in PANELS}
WV_HI = {k: G['WV_RET_HI_' + k] for k in PANELS}
WV_DROPS = {k: G['WV_DROPS_' + k] for k in PANELS}
T_RET = {k: G['T_RET_' + k] for k in PANELS}
T_APR = {k: G['T_APR_' + k] for k in PANELS}
T_LO = {k: G['T_RET_LO_' + k] for k in PANELS}
T_HI = {k: G['T_RET_HI_' + k] for k in PANELS}
T_DROPS = {k: G['T_DROPS_' + k] for k in PANELS}

W, H = 1892.0, 1337.0
DPI = 174
fig = plt.figure(figsize=(W / DPI, H / DPI), dpi=DPI)

LEFT0, STEP, AXW = 100.0, 226.1, 167.0
ROWS = {'top': (62.7, 540.6), 'bot': (661.0, 1141.5)}

C_RET, C_APR, C_DROP, C_AK = 'blue', 'orange', 'red', 'black'


def make_ax(i, row):
    t, b = ROWS[row]
    return fig.add_axes([(LEFT0 + STEP * i) / W, (H - b) / H, AXW / W, (b - t) / H])


for i, key in enumerate(PANELS):
    long = i >= 5
    zl = np.array(Z_LEV_B if long else Z_LEV_A)
    zc = np.array(Z_CRS_B if long else Z_CRS_A)

    # ---- top row: water vapour ----
    ax = make_ax(i, 'top')
    ret = np.array(WV_RET[key])
    ak = np.array(WV_AK[key])
    apr = np.array(WV_APR[key])
    aerr = np.array(WV_APR_ERR_B if long else WV_APR_ERR_A)
    lo = np.array(WV_LO[key])
    hi = np.array(WV_HI[key])
    dz, dv = np.array(WV_DROPS[key]).T

    ax.fill_betweenx(zc, 10 ** lo, 10 ** hi, color=C_RET, alpha=0.2)
    ax.fill_betweenx(zc, 10 ** (apr - aerr), 10 ** (apr + aerr), color=C_APR, alpha=0.2)
    ax.fill_betweenx(zl, 10 ** (ak - WV_AK_ERR), 10 ** (ak + WV_AK_ERR), color=C_AK, alpha=0.2)
    ax.plot(10 ** ret, zl, '-o', color=C_RET, lw=1.5, ms=2.6)
    ax.plot(10 ** apr, zc, '-', color=C_APR, lw=1.8)
    ax.plot(10 ** dv, dz, '-', color=C_DROP, lw=1.4)
    ax.plot(10 ** ak, zl, '-o', color=C_AK, lw=1.2, ms=2.6)

    ax.set_xscale('log')
    ax.set_xlim(20, 1.75e4)
    ax.set_ylim(0, 8.2)
    ax.set_yticks(Y_TICKS)
    ax.grid(True)
    ax.set_title(key)
    ax.set_xlabel('WV (ppmv)')
    if i == 0:
        ax.set_ylabel('Altitude (km)')
    else:
        ax.tick_params(labelleft=False)

    # ---- bottom row: temperature difference ----
    ax = make_ax(i, 'bot')
    ret = np.array(T_RET[key])
    ak = np.array(T_AK_B if long else T_AK_A)
    apr = np.array(T_APR[key])
    aerr = np.array(T_APR_ERR_B if long else T_APR_ERR_A)
    lo = np.array(T_LO[key])
    hi = np.array(T_HI[key])
    dz, dv = np.array(T_DROPS[key]).T

    ax.fill_betweenx(zc, lo, hi, color=C_RET, alpha=0.2)
    ax.fill_betweenx(zc, apr - aerr, apr + aerr, color=C_APR, alpha=0.2)
    ax.fill_betweenx(zl, ak - T_AK_ERR, ak + T_AK_ERR, color=C_AK, alpha=0.2)
    ax.fill_betweenx(dz, dv - T_DROP_ERR, dv + T_DROP_ERR, color=C_DROP, alpha=0.3)
    ax.plot(ret, zl, '-o', color=C_RET, lw=1.5, ms=2.6)
    ax.plot(apr, zc, '-', color=C_APR, lw=1.7)
    ax.plot(dv, dz, '-', color=C_DROP, lw=2.0)
    ax.plot(ak, zl, '-o', color=C_AK, lw=1.2, ms=2.6)

    ax.set_xlim(-2.5, 2.5)
    ax.set_xticks(T_TICKS)
    ax.set_ylim(0, 8.2)
    ax.set_yticks(Y_TICKS)
    ax.grid(True)
    ax.set_xlabel('T Diff (K)')
    if i == 0:
        ax.set_ylabel('Altitude (km)')
    else:
        ax.tick_params(labelleft=False)

fig.text(0.009, 0.9506, '(a)', fontsize=12, va='center', ha='left')
fig.text(0.009, 0.5019, '(b)', fontsize=12, va='center', ha='left')

handles = [Patch(facecolor=c, edgecolor=c) for c in (C_RET, C_APR, C_DROP, C_AK)]
fig.legend(handles, LEGEND_LABELS, loc='center', bbox_to_anchor=(0.5, 0.0374), ncol=4, fontsize=12)

fig.savefig('out.png', dpi=DPI)
